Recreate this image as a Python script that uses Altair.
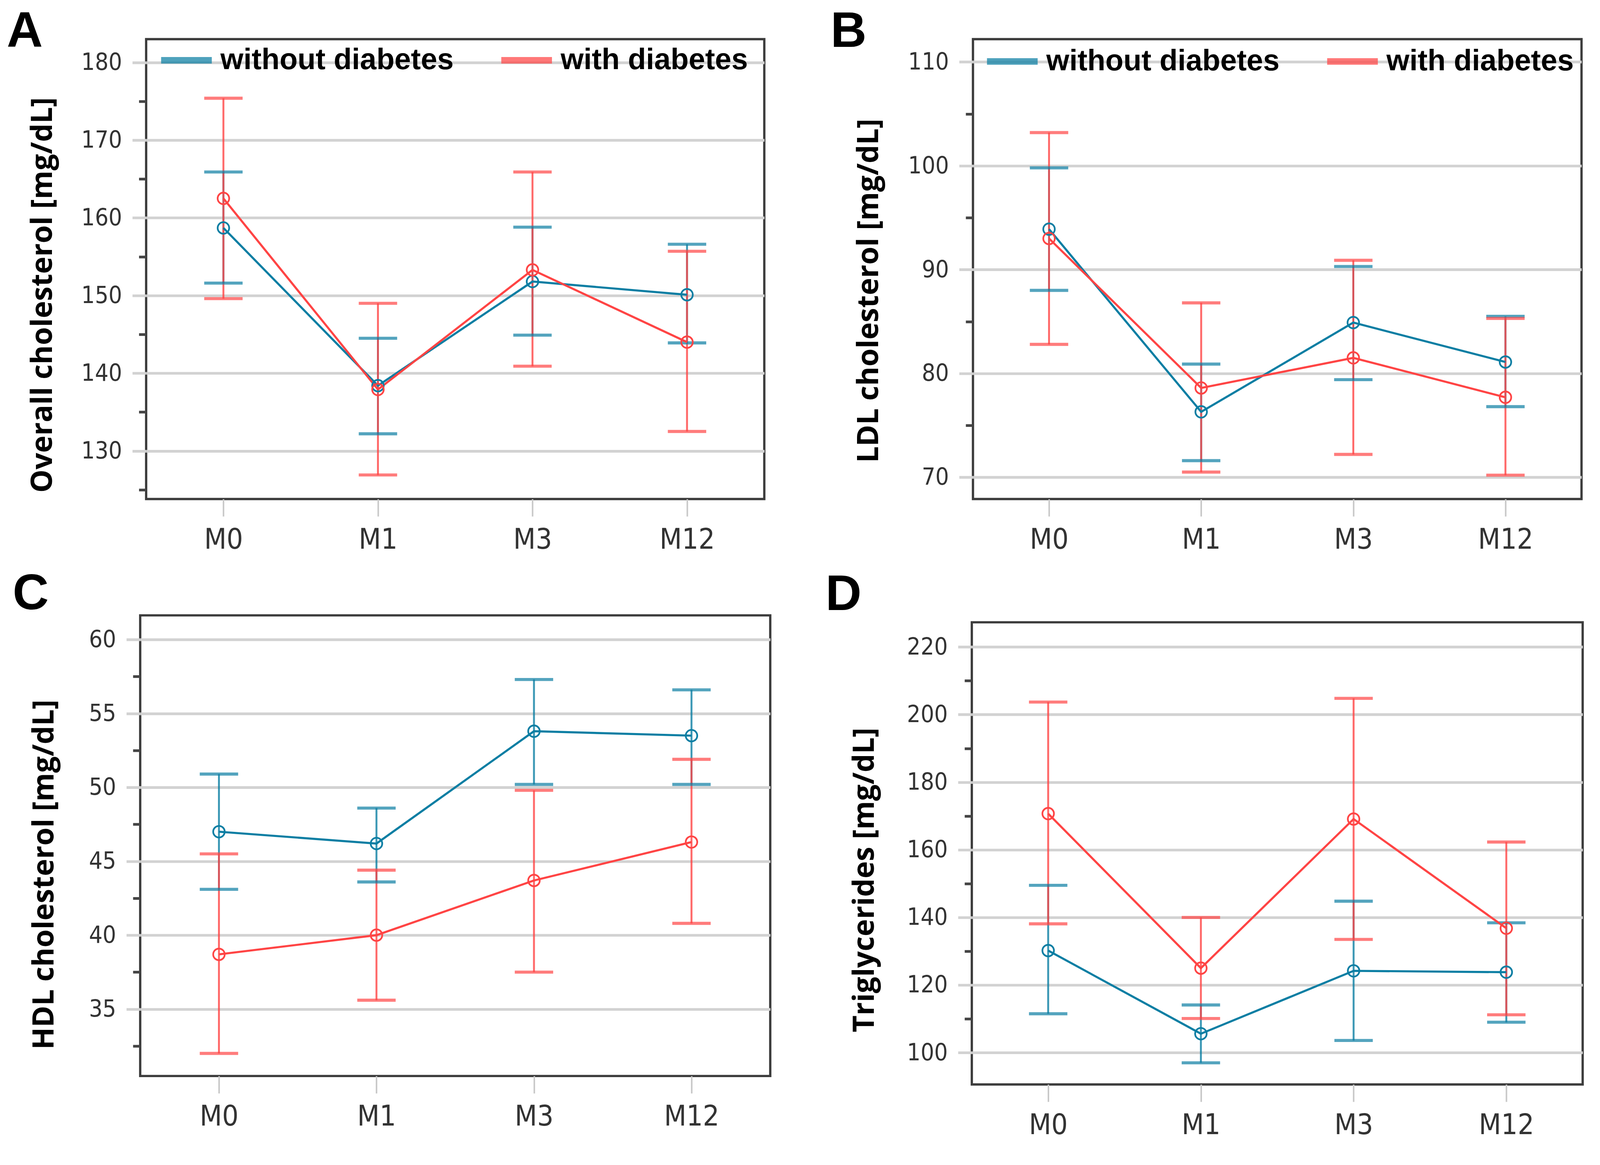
import altair as alt
import pandas as pd

visits = ["M0", "M1", "M3", "M12"]
groups = ["without diabetes", "with diabetes"]
colors = ["#0b7ea3", "#ff4444"]

# Panel A - overall cholesterol [mg/dL]
a_wo_mean = [158.7, 138.4, 151.8, 150.1]
a_wo_lo = [151.6, 132.2, 144.9, 143.9]
a_wo_hi = [165.9, 144.5, 158.8, 156.6]
a_w_mean = [162.5, 137.9, 153.3, 144.0]
a_w_lo = [149.6, 126.9, 140.9, 132.5]
a_w_hi = [175.4, 149.0, 165.9, 155.7]

# Panel B - LDL cholesterol [mg/dL]
b_wo_mean = [93.9, 76.3, 84.9, 81.1]
b_wo_lo = [88.0, 71.6, 79.4, 76.8]
b_wo_hi = [99.8, 80.9, 90.3, 85.5]
b_w_mean = [93.0, 78.6, 81.5, 77.7]
b_w_lo = [82.8, 70.5, 72.2, 70.2]
b_w_hi = [103.2, 86.8, 90.9, 85.3]

# Panel C - HDL cholesterol [mg/dL]
c_wo_mean = [47.0, 46.2, 53.8, 53.5]
c_wo_lo = [43.1, 43.6, 50.2, 50.2]
c_wo_hi = [50.9, 48.6, 57.3, 56.6]
c_w_mean = [38.7, 40.0, 43.7, 46.3]
c_w_lo = [32.0, 35.6, 37.5, 40.8]
c_w_hi = [45.5, 44.4, 49.8, 51.9]

# Panel D - triglycerides [mg/dL]
d_wo_mean = [130.2, 105.6, 124.2, 123.8]
d_wo_lo = [111.5, 97.0, 103.6, 109.0]
d_wo_hi = [149.5, 114.1, 144.8, 138.4]
d_w_mean = [170.7, 125.0, 169.1, 136.8]
d_w_lo = [138.1, 110.1, 133.5, 111.2]
d_w_hi = [203.7, 140.0, 204.8, 162.3]

NARROW = "Liberation Sans Narrow, Arial Narrow, DejaVu Sans Condensed, sans-serif"
BOLD = "Liberation Sans, Arial, sans-serif"
TITLEF = "Open Sans, DejaVu Sans, sans-serif"


def table(wo_mean, wo_lo, wo_hi, w_mean, w_lo, w_hi):
    rows = []
    for g, m, lo, hi in [(groups[0], wo_mean, wo_lo, wo_hi), (groups[1], w_mean, w_lo, w_hi)]:
        for i, v in enumerate(visits):
            rows.append({"visit": v, "group": g, "mean": m[i], "lo": lo[i], "hi": hi[i]})
    return pd.DataFrame(rows)


def panel(letter, ytitle, df, domain, ticks, major, w, h, lx, ly, cols, colpad,
          letter_dx, letter_off, tpad, ty):
    xenc = alt.X("visit:N", sort=visits, scale=alt.Scale(type="point", padding=0.5),
                 axis=alt.Axis(title=None, domain=False, grid=False, labelAngle=0,
                               tickColor="#c8c8c8", tickSize=45, tickWidth=4,
                               labelFont=NARROW, labelFontSize=75, labelColor="#333333",
                               labelPadding=25))
    test_minor = f"datum.value % {major} !== 0"
    yaxis = alt.Axis(values=ticks, domain=False,
                     labelExpr=f"datum.value % {major} === 0 ? datum.label : ''",
                     grid=True, gridColor="#d2d2d2", gridWidth=7,
                     gridOpacity={"condition": {"test": test_minor, "value": 0}, "value": 1},
                     tickColor={"condition": {"test": test_minor, "value": "#444444"},
                                "value": "#d2d2d2"},
                     tickDash={"condition": {"test": test_minor, "value": [19, 1000]},
                               "value": [1000, 0]},
                     tickSize=36, tickWidth=7,
                     labelFont=NARROW, labelFontSize=62, labelColor="#333333",
                     labelPadding=27,
                     titleFont=TITLEF, titleFontWeight="bold", titleFontSize=76,
                     titleColor="black", titlePadding=tpad, titleY=ty)
    yscale = alt.Scale(domain=domain, nice=False, zero=False)
    cscale = alt.Scale(domain=groups, range=colors)
    legend = alt.Legend(title=None, orient="none", legendX=lx, legendY=ly,
                        direction="horizontal" if cols == 2 else "vertical",
                        columns=cols, columnPadding=colpad, rowPadding=27,
                        symbolType="stroke", symbolSize=132 * 132, symbolStrokeWidth=17,
                        symbolOpacity=0.72, labelFont=BOLD, labelFontWeight="bold",
                        labelFontSize=77, labelColor="black", labelOffset=14,
                        clipHeight=77, labelLimit=3000)
    color = alt.Color("group:N", scale=cscale, legend=legend)
    base = alt.Chart(df)
    bars = base.mark_rule(strokeWidth=5, opacity=0.8).encode(
        x=xenc, y=alt.Y("lo:Q", scale=yscale, axis=yaxis, title=ytitle), y2="hi:Q",
        color=color)
    cap_lo = base.mark_tick(size=100, thickness=8).encode(
        x=xenc, y=alt.Y("lo:Q", scale=yscale), color=color)
    cap_hi = base.mark_tick(size=100, thickness=8).encode(
        x=xenc, y=alt.Y("hi:Q", scale=yscale), color=color)
    line = base.mark_line(strokeWidth=5.5).encode(
        x=xenc, y=alt.Y("mean:Q", scale=yscale), color=color)
    pts = base.mark_point(shape="circle", size=900, filled=False, strokeWidth=4.5,
                          opacity=1).encode(
        x=xenc, y=alt.Y("mean:Q", scale=yscale), color=color)
    return alt.layer(bars, cap_lo, cap_hi, line, pts).properties(
        width=w, height=h,
        title=alt.TitleParams(text=letter, anchor="start", frame="group", font=BOLD,
                              fontSize=130, fontWeight="bold", color="black",
                              baseline="alphabetic", offset=letter_off, dx=letter_dx))


A = panel("A", "Overall cholesterol [mg/dL]",
          table(a_wo_mean, a_wo_lo, a_wo_hi, a_w_mean, a_w_lo, a_w_hi),
          [123.8, 183.0], list(range(125, 181, 5)), 10, 1610, 1198,
          46, 16.5, 2, 115, -363, -150, 60, 666)
B = panel("B", "LDL cholesterol [mg/dL]",
          table(b_wo_mean, b_wo_lo, b_wo_hi, b_w_mean, b_w_lo, b_w_hi),
          [67.9, 112.2], list(range(70, 111, 5)), 10, 1585, 1198,
          31, 19.5, 2, 115, -371, -150, 62, 655)
C = panel("C", "HDL cholesterol [mg/dL]",
          table(c_wo_mean, c_wo_lo, c_wo_hi, c_w_mean, c_w_lo, c_w_hi),
          [30.47, 61.64], [32.5 + 2.5 * i for i in range(12)], 5, 1641, 1200,
          40, 20.5, 1, 20, -332, -114, 76, 675)
D = panel("D", "Triglycerides [mg/dL]",
          table(d_wo_mean, d_wo_lo, d_wo_hi, d_w_mean, d_w_lo, d_w_hi),
          [90.6, 227.3], list(range(100, 221, 10)), 20, 1591, 1204,
          40, 22.5, 2, 115, -381, -98, 70, 671)

col1 = alt.vconcat(A, C, spacing=33, center=True)
col2 = alt.vconcat(B, D, spacing=35, center=True)
chart = alt.hconcat(col1, col2, spacing=138).properties(
    padding={"left": 6, "top": -19, "right": 34, "bottom": 40},
    background="white",
).resolve_scale(color="independent").resolve_legend(color="independent").configure_view(
    stroke="#3c3c3c", strokeWidth=6)

chart.save("out.html", embed_options={"renderer": "svg", "actions": False})
